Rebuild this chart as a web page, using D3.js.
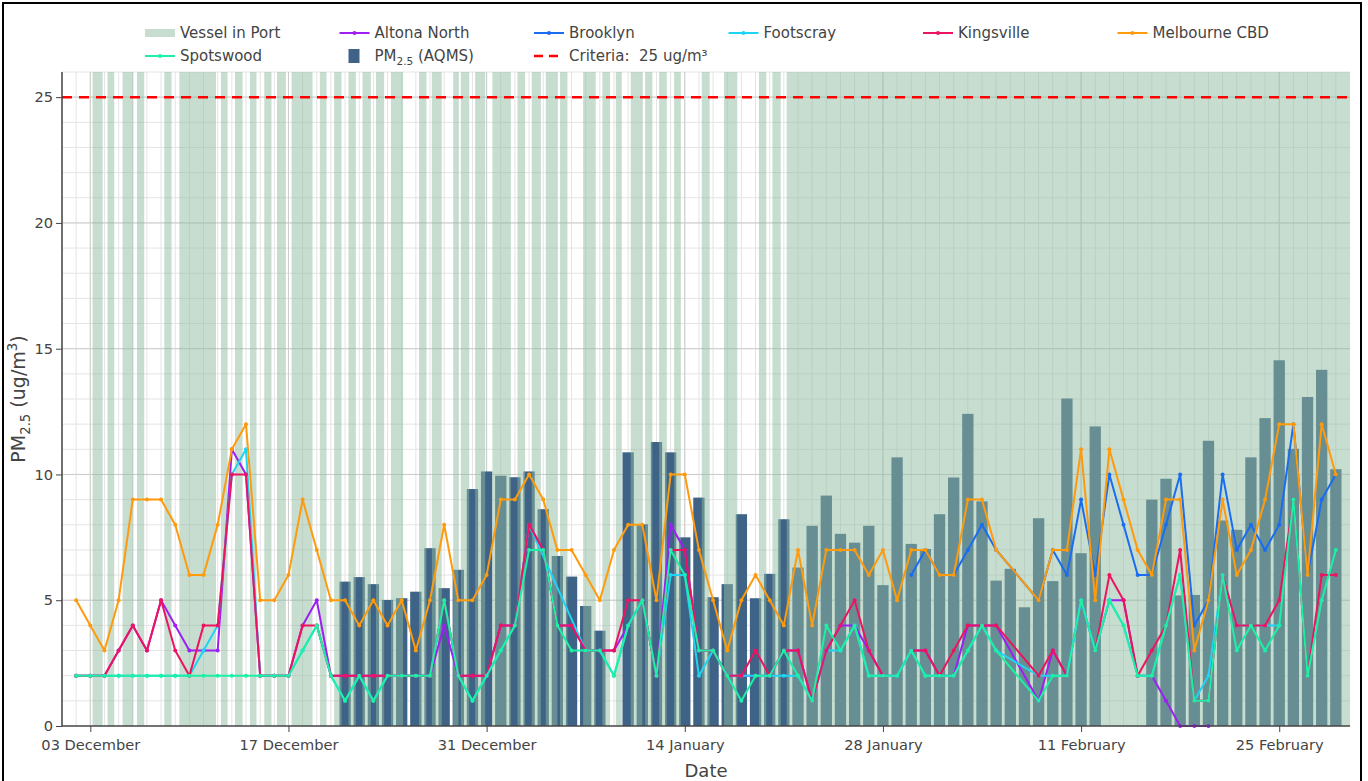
<!DOCTYPE html>
<html>
<head>
<meta charset="utf-8">
<script src="https://cdn.jsdelivr.net/npm/d3@7/dist/d3.min.js"></script>
<style>
  body { margin: 0; background: #fff; }
  svg { font-family: "DejaVu Sans", sans-serif; }
</style>
</head>
<body>
<svg></svg>
<script>
// Station data runs 2 Dec 2019 - 29 Feb 2020 (no station rows for 6-7 Feb)
var stationDays = d3.utcDay.range(new Date(Date.UTC(2019, 11, 2)), new Date(Date.UTC(2020, 2, 1)))
  .filter(function(d){ return !(d.getUTCMonth() === 1 && (d.getUTCDate() === 6 || d.getUTCDate() === 7)); });

var N = null;
var altonaNorth = [2,2,2,3,4,3,5,4,3,3,3,11,10,2,2,2,4,5,2,2,2,2,2,2,2,2,4,2,2,2,
  4,4,8,7,4,4,3,3,3,4,5,2,8,7,3,3,2,2,2,2,3,3,1,3,4,4,3,2,2,3,3,
  2,2,4,4,4, 1,3,2,5,3,5,5,2,2,1,0,0,0,N,N,N,N,N,N,N,N,N];
var brooklyn = [N,N,N,N,N,N,N,N,N,N,N,N,N,N,N,N,N,N,N,N,N,N,N,N,N,N,N,N,N,N,
  N,N,N,N,N,N,N,N,N,N,N,N,N,N,N,N,N,N,N,N,N,N,N,N,N,N,N,N,N,6,7,
  6,6,7,8,7, 5,7,6,9,6,10,8,6,6,8,10,4,5,10,7,8,7,8,12,6,9,10];
var footscray = [2,2,2,2,2,2,2,2,2,3,4,10,11,2,2,2,3,4,2,1,2,1,2,2,2,2,5,2,1,2,
  3,4,8,N,N,N,3,3,2,4,5,2,6,6,2,3,2,2,2,2,2,2,1,3,3,4,2,2,2,3,2,
  2,2,3,4,3, 2,2,2,5,3,5,4,2,2,4,6,1,2,6,4,4,4,4,N,N,N,N];
var kingsville = [2,2,2,3,4,3,5,3,2,4,4,10,10,2,2,2,4,4,2,2,2,2,2,2,2,2,5,2,2,2,
  4,4,8,7,4,4,3,3,3,5,5,2,7,7,3,3,2,2,3,2,3,3,1,3,4,5,3,2,N,3,3,
  2,3,4,4,4, 2,3,2,N,3,6,5,2,3,4,7,1,1,6,4,4,4,5,9,2,6,6];
var melbourneCBD = [5,4,3,5,9,9,9,8,6,6,8,11,12,5,5,6,9,7,5,5,4,5,4,5,3,5,8,5,5,6,
  9,9,10,9,7,7,6,5,7,8,8,5,10,10,7,5,3,5,6,5,4,7,4,7,7,7,6,7,5,7,7,
  6,6,9,9,7, 5,7,7,11,5,11,9,7,6,9,9,3,5,9,6,7,9,12,12,6,12,10];
var spotswood = [2,2,2,2,2,2,2,2,2,2,2,2,2,2,2,2,3,4,2,1,2,1,2,2,2,2,5,2,1,2,
  3,4,7,7,4,3,3,3,2,4,5,2,7,6,3,3,2,1,2,2,3,2,1,4,3,4,2,2,2,3,2,
  2,2,3,4,3, 1,2,2,5,3,5,4,2,2,4,6,1,1,6,3,4,3,4,9,2,5,7];

// AQMS daily PM2.5, 21 Dec 2019 - 29 Feb 2020
var aqmsDays = d3.utcDay.range(new Date(Date.UTC(2019, 11, 21)), new Date(Date.UTC(2020, 2, 1)));
var aqms = [5.74,5.92,5.64,5.01,5.08,5.34,7.07,5.48,6.21,9.42,10.12,
  9.95,9.89,10.12,8.62,6.76,5.94,4.77,3.79,N,10.88,8.02,11.29,10.88,7.5,9.08,5.12,5.64,8.42,5.08,6.05,
  8.22,6.3,7.96,9.16,7.64,7.29,7.96,5.6,10.68,7.24,7.04,
  8.42,9.88,12.41,8.93,5.78,6.25,4.72,8.26,5.76,13.02,6.87,11.91,N,N,N,9.0,9.83,5.19,5.21,11.34,
  8.17,7.8,10.68,12.24,14.54,11.02,13.08,14.16,10.21];

// Vessel in port periods, in days after 1 Dec 2019 00:00
var vesselStart = [2.16,3.22,4.28,5.30,7.23,8.29,11.23,12.22,13.28,14.29,15.19,16.22,18.22,19.23,20.24,
  21.23,22.18,23.24,25.23,26.13,27.64,28.18,29.19,30.41,32.18,33.19,34.18,35.19,36.82,38.18,39.13,
  40.18,41.20,42.19,43.25,45.20,46.77,49.24,50.19,51.20];
var vesselEnd = [2.87,3.69,5.04,5.81,7.74,10.88,11.70,12.76,13.74,14.80,15.82,17.70,18.69,19.75,20.76,
  21.82,22.76,24.10,25.75,26.83,28.01,28.77,29.90,31.71,32.72,33.83,35.00,35.71,37.71,38.72,39.55,
  41.00,41.71,42.73,43.72,45.76,47.71,49.76,50.78,91];

var criteria = 25;
var yTicks = [0, 5, 10, 15, 20, 25];

var stations = [
  {name: "Altona North", values: altonaNorth, color: "#9d1ff2", connect: true},
  {name: "Brooklyn", values: brooklyn, color: "#1a6cf0", connect: true},
  {name: "Footscray", values: footscray, color: "#1fd4f2", connect: true},
  {name: "Kingsville", values: kingsville, color: "#ec1461", connect: false},
  {name: "Melbourne CBD", values: melbourneCBD, color: "#ff9a0d", connect: true},
  {name: "Spotswood", values: spotswood, color: "#1cf0a6", connect: true}
];

var W = 1368, H = 781;
var margin = {left: 62, right: 18, top: 72, bottom: 55};
var svg = d3.select("svg").attr("width", W).attr("height", H);

var t0 = new Date(Date.UTC(2019, 11, 1));
var x = d3.scaleUtc()
  .domain([t0, new Date(Date.UTC(2020, 2, 1))])
  .range([margin.left, W - margin.right]);
var y = d3.scaleLinear().domain([0, 26]).range([H - margin.bottom, margin.top]);
var dayMs = 864e5;
function dayAt(off){ return new Date(t0.getTime() + off * dayMs); }

// outer frame
svg.append("rect").attr("x", 3).attr("y", 3).attr("width", 1358).attr("height", 800)
  .attr("fill", "none").attr("stroke", "#000").attr("stroke-width", 2);

// grid: minor every day / every unit, major every 14 days / 5 units
var gridDays = d3.utcDay.range(x.domain()[0], x.domain()[1]);
var xMajor = d3.utcDay.range(new Date(Date.UTC(2019, 11, 3)), x.domain()[1], 14);
var grid = svg.append("g");
grid.selectAll(".vminor").data(gridDays).enter().append("line")
  .attr("x1", function(d){ return x(d); }).attr("x2", function(d){ return x(d); })
  .attr("y1", y(26)).attr("y2", y(0)).attr("stroke", "#e4e4e4");
grid.selectAll(".hminor").data(d3.range(1, 27)).enter().append("line")
  .attr("x1", x.range()[0]).attr("x2", x.range()[1])
  .attr("y1", function(d){ return y(d); }).attr("y2", function(d){ return y(d); })
  .attr("stroke", "#e4e4e4");
grid.selectAll(".vmajor").data(xMajor).enter().append("line")
  .attr("x1", function(d){ return x(d); }).attr("x2", function(d){ return x(d); })
  .attr("y1", y(26)).attr("y2", y(0)).attr("stroke", "#cccccc");
grid.selectAll(".hmajor").data(yTicks.slice(1)).enter().append("line")
  .attr("x1", x.range()[0]).attr("x2", x.range()[1])
  .attr("y1", function(d){ return y(d); }).attr("y2", function(d){ return y(d); })
  .attr("stroke", "#cccccc");

// AQMS bars
var barW = x(dayAt(0.8)) - x(t0);
svg.append("g").selectAll("rect")
  .data(aqmsDays.map(function(d, i){ return {date: d, v: aqms[i]}; }).filter(function(d){ return d.v !== null; }))
  .enter().append("rect")
  .attr("x", function(d){ return x(d.date) - barW / 2; })
  .attr("width", barW)
  .attr("y", function(d){ return y(d.v); })
  .attr("height", function(d){ return y(0) - y(d.v); })
  .attr("fill", "#3e6386");

// vessel in port (translucent, over bars)
svg.append("g").selectAll("rect")
  .data(vesselStart.map(function(s, i){ return [s, vesselEnd[i]]; }))
  .enter().append("rect")
  .attr("x", function(d){ return x(dayAt(d[0])); })
  .attr("width", function(d){ return x(dayAt(d[1])) - x(dayAt(d[0])); })
  .attr("y", y(26)).attr("height", y(0) - y(26))
  .attr("fill", "rgb(143,188,160)").attr("opacity", 0.5);

// criteria
svg.append("line")
  .attr("x1", x.range()[0]).attr("x2", x.range()[1])
  .attr("y1", y(criteria)).attr("y2", y(criteria))
  .attr("stroke", "#ff0000").attr("stroke-width", 2.5).attr("stroke-dasharray", "10,7");

// station lines
var lineGen = d3.line()
  .defined(function(d){ return d.v !== null; })
  .x(function(d){ return x(d.date); })
  .y(function(d){ return y(d.v); });

stations.forEach(function(s){
  var pts = stationDays.map(function(d, i){ return {date: d, v: s.values[i]}; });
  if (s.connect) pts = pts.filter(function(d){ return d.v !== null; });
  var g = svg.append("g");
  g.append("path").datum(pts).attr("d", lineGen)
    .attr("fill", "none").attr("stroke", s.color).attr("stroke-width", 2)
    .attr("stroke-linejoin", "round");
  g.selectAll("circle").data(pts.filter(function(d){ return d.v !== null; }))
    .enter().append("circle")
    .attr("cx", function(d){ return x(d.date); })
    .attr("cy", function(d){ return y(d.v); })
    .attr("r", 2).attr("fill", s.color);
});

// axes
var xAxis = svg.append("g").attr("transform", "translate(0," + y(0) + ")")
  .call(d3.axisBottom(x).tickValues(xMajor).tickFormat(d3.utcFormat("%d %B")).tickSize(6).tickPadding(8));
var yAxis = svg.append("g").attr("transform", "translate(" + margin.left + ",0)")
  .call(d3.axisLeft(y).tickValues(yTicks).tickSize(6).tickPadding(3));
[xAxis, yAxis].forEach(function(a){
  a.select(".domain").attr("stroke", "#444").attr("stroke-width", 1.5);
  a.selectAll(".tick line").attr("stroke", "#444");
  a.selectAll(".tick text").attr("fill", "#444").style("font-size", "14.6px").style("font-family", "DejaVu Sans");
});
yAxis.select(".domain").attr("d", "M0," + y(26) + "V" + y(0));
xAxis.select(".domain").attr("d", "M" + x.range()[0] + ",0H" + x.range()[1]);

svg.append("text").attr("x", (x.range()[0] + x.range()[1]) / 2).attr("y", 777)
  .attr("text-anchor", "middle").attr("fill", "#444").style("font-size", "18px").text("Date");

// PM2.5 label with sub/superscripts
function pmText(sel, size, rest, sup){
  sel.append("tspan").text("PM");
  sel.append("tspan").attr("dy", size * 0.25).style("font-size", (size * 0.7) + "px").text("2.5");
  sel.append("tspan").attr("dy", -size * 0.25).text(rest);
  if (sup) {
    sel.append("tspan").attr("dy", -size * 0.4).style("font-size", (size * 0.7) + "px").text(sup);
    sel.append("tspan").attr("dy", size * 0.4).text(")");
  }
}
var yTitle = svg.append("text").attr("transform", "translate(25," + ((y(0) + y(26)) / 2) + ") rotate(-90)")
  .attr("text-anchor", "middle").attr("fill", "#444").style("font-size", "19px");
pmText(yTitle, 19, " (ug/m", "3");

// legend
var legendItems = [
  {name: "Vessel in Port", type: "vessel"},
  {name: "Altona North", type: "line", color: stations[0].color},
  {name: "Brooklyn", type: "line", color: stations[1].color},
  {name: "Footscray", type: "line", color: stations[2].color},
  {name: "Kingsville", type: "line", color: stations[3].color},
  {name: "Melbourne CBD", type: "line", color: stations[4].color},
  {name: "Spotswood", type: "line", color: stations[5].color},
  {name: "PM2.5 (AQMS)", type: "bar"},
  {name: "Criteria:  25 ug/m³", type: "dash"}
];
var leg = svg.append("g");
legendItems.forEach(function(it, i){
  var lx = 145 + (i % 6) * 194.5, ly = 33 + Math.floor(i / 6) * 23;
  var g = leg.append("g").attr("transform", "translate(" + lx + "," + ly + ")");
  if (it.type === "vessel") {
    g.append("rect").attr("x", 0).attr("y", -4).attr("width", 30).attr("height", 8)
      .attr("fill", "rgb(143,188,160)").attr("opacity", 0.5);
  } else if (it.type === "line") {
    g.append("line").attr("x1", 0).attr("x2", 30).attr("stroke", it.color).attr("stroke-width", 2);
    g.append("circle").attr("cx", 15).attr("r", 2).attr("fill", it.color);
  } else if (it.type === "bar") {
    g.append("rect").attr("x", 9).attr("y", -7).attr("width", 11).attr("height", 14).attr("fill", "#3e6386");
  } else {
    g.append("line").attr("x1", 0).attr("x2", 30).attr("stroke", "#ff0000")
      .attr("stroke-width", 2.5).attr("stroke-dasharray", "9,6");
  }
  var t = g.append("text").attr("x", 35).attr("y", 5).attr("fill", "#444")
    .style("font-size", "15px").style("white-space", "pre");
  if (it.type === "bar") pmText(t, 15, " (AQMS)");
  else t.text(it.name);
});
</script>
</body>
</html>
